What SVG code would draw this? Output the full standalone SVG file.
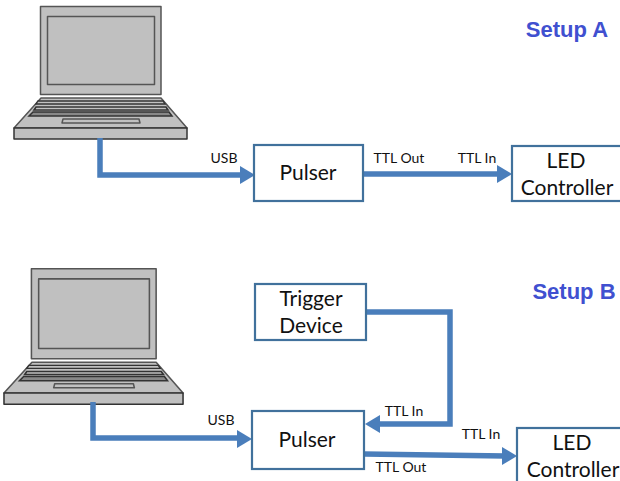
<svg xmlns="http://www.w3.org/2000/svg" xmlns:xlink="http://www.w3.org/1999/xlink" width="620" height="481" viewBox="0 0 620 481">
<style>
text{font-family:"Lato","Open Sans","Liberation Sans",sans-serif;fill:#111}
.box{fill:#fff;stroke:#41719c;stroke-width:2.2}
.big{font-size:21px;text-anchor:middle}
.small{font-size:14px;text-anchor:middle}
.title{font-family:"Liberation Sans",sans-serif;font-weight:bold;font-size:22px;fill:#4050d0;text-anchor:middle}
.wire{fill:none;stroke:#4a7ebb;stroke-width:5.5;stroke-linejoin:miter}
.lap{fill:#c0c0c0;stroke:#555;stroke-width:1.5;stroke-linejoin:round}
.lapd{fill:#c0c0c0;stroke:#333;stroke-width:1.5;stroke-linejoin:round}
.head{fill:#4a7ebb}
</style>
<defs>
<g id="laptop">
<rect class="lap" x="40.5" y="6.5" width="120.5" height="88"/>
<rect class="lap" x="47.5" y="16.5" width="107" height="68"/>
<path class="lap" d="M41 98H161L187 128H14Z"/>
<path d="M38 101H163L165 104H36Z" fill="#c0c0c0" stroke="#333" stroke-width="1.3"/>
<path d="M36 107H166L168 110H34Z" fill="#c0c0c0" stroke="#333" stroke-width="1.6"/>
<path d="M33 112H169L172 116H29Z" fill="#888" stroke="#333" stroke-width="1.5"/>
<path class="lap" d="M63 119H139L140 123H62Z"/>
<rect class="lapd" x="14" y="128" width="173" height="11"/>
</g>
</defs>
<g id="laptop-a"><use xlink:href="#laptop" href="#laptop"/></g>
<g id="laptop-b"><use xlink:href="#laptop" href="#laptop" transform="translate(-10.5 262) scale(1.035 1.023)"/></g>
<g id="connectors">
<path class="wire" d="M100 138V175H240"/>
<path class="head" d="M240 166L255 175L240 184Z"/>
<path class="wire" d="M363 174H498"/>
<path class="head" d="M497 165L512 174L497 183Z"/>
<path class="wire" d="M93 402V438H238"/>
<path class="head" d="M237 430L252 439L237 448Z"/>
<path class="wire" d="M366 312H450V424H378"/>
<path class="head" d="M380 415L365 424L380 433Z"/>
<path class="wire" d="M364 454L505 456"/>
<path class="head" d="M502 447L517 456L502 465Z"/>
</g>
<g id="pulser-a"><rect class="box" x="254" y="145" width="109" height="56"/><text class="big" x="308" y="180">Pulser</text></g>
<g id="led-a"><rect class="box" x="512" y="146" width="110" height="55"/><text class="big" x="566" y="168">LED</text><text class="big" x="567" y="195">Controller</text></g>
<g id="trigger"><rect class="box" x="255" y="284" width="111" height="56"/><text class="big" x="311" y="306">Trigger</text><text class="big" x="311" y="333">Device</text></g>
<g id="pulser-b"><rect class="box" x="252" y="411" width="112" height="58"/><text class="big" x="307" y="447">Pulser</text></g>
<g id="led-b"><rect class="box" x="517" y="428" width="110" height="60"/><text class="big" x="572" y="450">LED</text><text class="big" x="573" y="477">Controller</text></g>
<g id="labels">
<text class="title" x="567" y="37">Setup A</text>
<text class="title" x="574" y="299">Setup B</text>
<text class="small" x="224" y="163">USB</text>
<text class="small" x="399" y="163">TTL Out</text>
<text class="small" x="477" y="163">TTL In</text>
<text class="small" x="221" y="425">USB</text>
<text class="small" x="404" y="416">TTL In</text>
<text class="small" x="481" y="439">TTL In</text>
<text class="small" x="401" y="472">TTL Out</text>
</g>
</svg>
